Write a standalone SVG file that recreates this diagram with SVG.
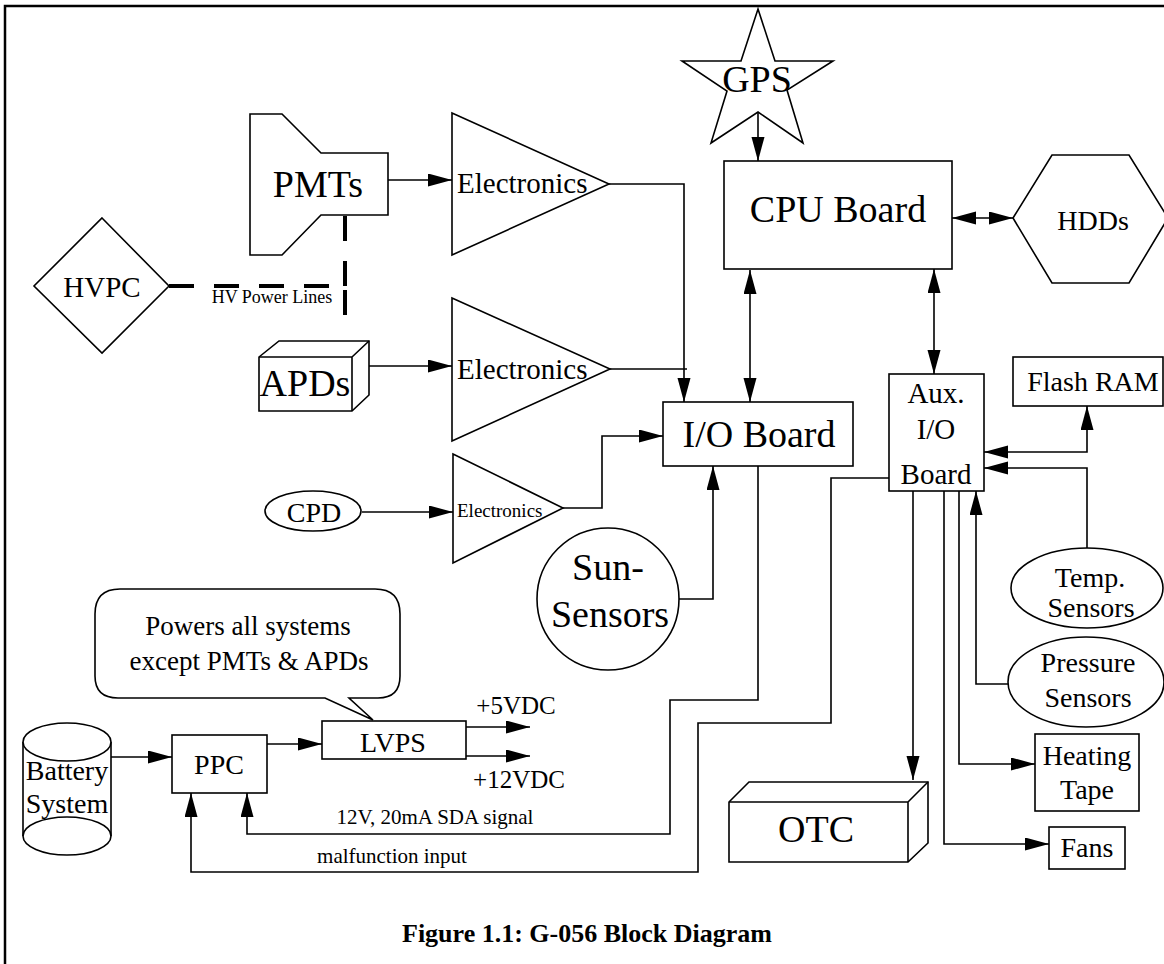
<svg xmlns="http://www.w3.org/2000/svg" width="1164" height="964" viewBox="0 0 1164 964">
<defs>
<marker id="ah" markerUnits="userSpaceOnUse" markerWidth="25" markerHeight="14" refX="24" refY="6.5" orient="auto-start-reverse" viewBox="0 0 25 14">
<path d="M0,0 L24,6.5 L0,13 z" fill="#000"/>
</marker>
<style>
.s{fill:#fff;stroke:#000;stroke-width:1.6}
.c{fill:none;stroke:#000;stroke-width:1.6}
.a{marker-end:url(#ah)}
.b{marker-start:url(#ah);marker-end:url(#ah)}
text{font-family:"Liberation Serif","Times New Roman",serif;fill:#000}
.m{text-anchor:middle}
</style>
</defs>
<rect width="1164" height="964" fill="#fff"/>
<path d="M5,964 V6 H1164" fill="none" stroke="#000" stroke-width="2.5"/>

<g id="connectors">
<path class="c a" d="M388,180 H452"/>
<path class="c a" d="M609,184 H684 V402"/>
<path class="c" d="M610,369 H687"/>
<path class="c a" d="M367,366 H452"/>
<path class="c a" d="M362,512 H453"/>
<path class="c a" d="M563,508 H602 V436 H663"/>
<path class="c a" d="M679,599 H713 V466"/>
<path class="c b" d="M750,270 V402"/>
<path class="c a" d="M758,112 V161"/>
<path class="c b" d="M952,218 H1013"/>
<path class="c b" d="M934,269 V374"/>
<path class="c b" d="M1087,406 V452 H984"/>
<path class="c a" d="M1087,548 V468 H984"/>
<path class="c a" d="M1008,684 H976 V491"/>
<path class="c a" d="M959,491 V764 H1035"/>
<path class="c a" d="M944,491 V844 H1049"/>
<path class="c a" d="M913,491 V780"/>
<path class="c a" d="M758,466 V700 H670 V834 H247 V793"/>
<path class="c a" d="M889,478 H831 V723 H698 V872 H191 V793"/>
<path class="c a" d="M111,757 H172"/>
<path class="c a" d="M267,744 H322"/>
<path class="c a" d="M466,727 H530"/>
<path class="c a" d="M466,756 H530"/>
<path d="M169,286 H345 V333 M345,216 V286" fill="none" stroke="#000" stroke-width="4" stroke-dasharray="25,20"/>
<text x="272" y="303" class="m" font-size="18">HV Power Lines</text>
<text x="435" y="824" class="m" font-size="21">12V, 20mA SDA signal</text>
<text x="392" y="863" class="m" font-size="21">malfunction input</text>
<text x="516" y="714" class="m" font-size="25">+5VDC</text>
<text x="519" y="788" class="m" font-size="25">+12VDC</text>
</g>

<g id="pmts">
<path class="s" d="M250,114 H282 L321,153 H388 V215 H321 L282,255 H250 Z"/>
<text x="318" y="197" class="m" font-size="38">PMTs</text>
</g>
<g id="hvpc">
<path class="s" d="M102,218 L169,286 L102,353 L34,286 Z"/>
<text x="102" y="297" class="m" font-size="29">HVPC</text>
</g>
<g id="apds">
<path class="s" d="M259,357 L279,341 H369 V395 L352,411 H259 Z"/>
<path class="c" d="M259,357 H352 V411 M352,357 L369,341"/>
<text x="305" y="396" class="m" font-size="38">APDs</text>
</g>
<g id="electronics1">
<path class="s" d="M452,113 L609,184 L452,255 Z"/>
<text x="457" y="193" font-size="29">Electronics</text>
</g>
<g id="electronics2">
<path class="s" d="M452,298 L610,369 L452,441 Z"/>
<text x="457" y="379" font-size="29">Electronics</text>
</g>
<g id="electronics3">
<path class="s" d="M453,454 L563,508 L453,563 Z"/>
<text x="457" y="517" font-size="19">Electronics</text>
</g>
<g id="cpd">
<ellipse class="s" cx="313" cy="511" rx="48" ry="20"/>
<text x="314" y="522" class="m" font-size="28">CPD</text>
</g>
<g id="io-board">
<rect class="s" x="663" y="402" width="190" height="64"/>
<text x="759" y="447" class="m" font-size="38">I/O Board</text>
</g>
<g id="sun-sensors">
<circle class="s" cx="608" cy="599" r="71"/>
<text x="608" y="580" class="m" font-size="38">Sun-</text>
<text x="610" y="627" class="m" font-size="38">Sensors</text>
</g>
<g id="gps">
<path class="s" d="M758,9 L775,61 L833,61 L787,90 L803,143 L758,112 L711,143 L727,91 L682,61 L741,61 Z"/>
<text x="757" y="92" class="m" font-size="38">GPS</text>
</g>
<g id="cpu-board">
<rect class="s" x="724" y="161" width="228" height="108"/>
<text x="838" y="222" class="m" font-size="38">CPU Board</text>
</g>
<g id="hdds">
<path class="s" d="M1013,218 L1052,155 H1129 L1168,218 L1129,283 H1052 Z"/>
<text x="1093" y="230" class="m" font-size="28">HDDs</text>
</g>
<g id="aux-io-board">
<rect class="s" x="889" y="374" width="95" height="117"/>
<text x="936" y="403" class="m" font-size="29">Aux.</text>
<text x="936" y="439" class="m" font-size="29">I/O</text>
<text x="936" y="484" class="m" font-size="29">Board</text>
</g>
<g id="flash-ram">
<rect class="s" x="1013" y="357" width="150" height="49"/>
<text x="1093" y="391" class="m" font-size="28">Flash RAM</text>
</g>
<g id="temp-sensors">
<ellipse class="s" cx="1087" cy="588" rx="76" ry="40"/>
<text x="1090" y="587" class="m" font-size="28">Temp.</text>
<text x="1091" y="617" class="m" font-size="28">Sensors</text>
</g>
<g id="pressure-sensors">
<ellipse class="s" cx="1086" cy="682" rx="78" ry="45"/>
<text x="1088" y="672" class="m" font-size="28">Pressure</text>
<text x="1088" y="707" class="m" font-size="28">Sensors</text>
</g>
<g id="heating-tape">
<rect class="s" x="1035" y="734" width="104" height="77"/>
<text x="1087" y="765" class="m" font-size="28">Heating</text>
<text x="1087" y="799" class="m" font-size="28">Tape</text>
</g>
<g id="fans">
<rect class="s" x="1049" y="827" width="76" height="42"/>
<text x="1087" y="857" class="m" font-size="28">Fans</text>
</g>
<g id="otc">
<path class="s" d="M729,802 L749,782 H928 V843 L908,862 H729 Z"/>
<path class="c" d="M729,802 H908 V862 M908,802 L928,782"/>
<text x="816" y="842" class="m" font-size="38">OTC</text>
</g>
<g id="battery-system">
<path class="s" d="M23,742 V836 A44,19 0 0 0 111,836 V742"/>
<ellipse class="s" cx="67" cy="742" rx="44" ry="19"/>
<path class="c" d="M23,836 A44,19 0 0 1 111,836"/>
<text x="67" y="780" class="m" font-size="28">Battery</text>
<text x="67" y="813" class="m" font-size="28">System</text>
</g>
<g id="ppc">
<rect class="s" x="172" y="735" width="95" height="58"/>
<text x="219" y="774" class="m" font-size="28">PPC</text>
</g>
<g id="lvps">
<rect class="s" x="322" y="721" width="144" height="38"/>
<text x="393" y="752" class="m" font-size="28">LVPS</text>
</g>
<g id="callout">
<path class="s" d="M120,589 H375 Q400,589 400,614 V676 Q400,698 378,698 H349 L373,720 L325,698 H118 Q95,698 95,676 V614 Q95,589 120,589 Z"/>
<text x="248" y="635" class="m" font-size="27">Powers all systems</text>
<text x="249" y="670" class="m" font-size="27">except PMTs &amp; APDs</text>
</g>
<text x="587" y="942" class="m" font-size="26" font-weight="bold">Figure 1.1: G-056 Block Diagram</text>
</svg>
